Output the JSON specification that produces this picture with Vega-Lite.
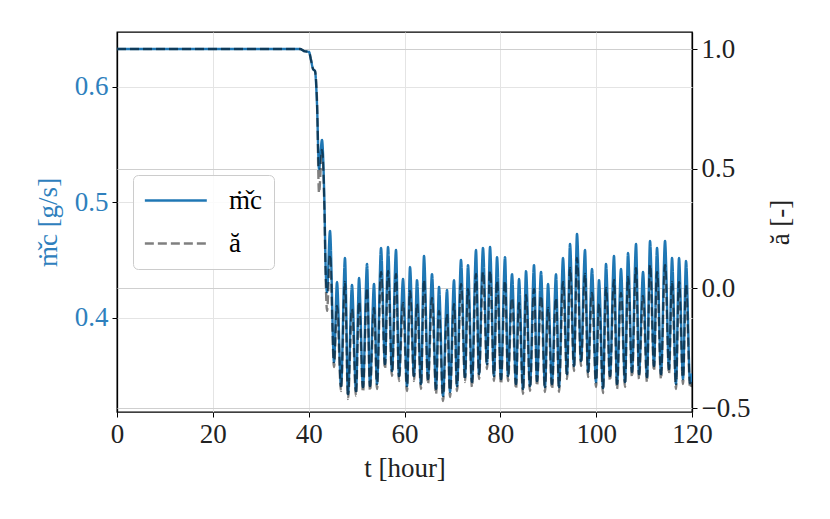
{
  "$schema": "https://vega.github.io/schema/vega-lite/v6.json",
  "width": 575,
  "height": 380,
  "autosize": {"type": "none"},
  "padding": {"left": 117, "top": 32, "right": 138, "bottom": 107},
  "background": "white",
  "config": {
    "view": {"stroke": "black", "strokeWidth": 1.3},
    "font": "Liberation Serif",
    "axis": {
      "labelFont": "Liberation Serif",
      "titleFont": "Liberation Serif",
      "labelFontSize": 27,
      "titleFontSize": 27,
      "titleFontWeight": "normal",
      "labelColor": "#222222",
      "titleColor": "#222222",
      "tickColor": "black",
      "tickSize": 5,
      "labelPadding": 4,
      "labelFlush": false,
      "labelOverlap": false,
      "domain": false
    },
    "legend": {
      "labelFont": "Liberation Serif",
      "labelFontSize": 27
    }
  },
  "data": {
    "values": [
      {"t": 0, "m": 0.6329, "a": 1.0},
      {"t": 38.19, "m": 0.6329, "a": 1.0},
      {"t": 39.03, "m": 0.6311, "a": 0.9916},
      {"t": 40.07, "m": 0.6303, "a": 0.9875},
      {"t": 40.49, "m": 0.6234, "a": 0.954},
      {"t": 40.91, "m": 0.6156, "a": 0.9165},
      {"t": 41.32, "m": 0.6138, "a": 0.908},
      {"t": 41.74, "m": 0.585, "a": 0.787},
      {"t": 42.16, "m": 0.529, "a": 0.399},
      {"t": 42.78, "m": 0.5541, "a": 0.5783},
      {"t": 43.26, "m": 0.5047, "a": 0.3487},
      {"t": 43.56, "m": 0.4415, "a": 0.035},
      {"t": 43.83, "m": 0.4224, "a": -0.0935},
      {"t": 44.45, "m": 0.4753, "a": 0.1399},
      {"t": 45.29, "m": 0.3618, "a": -0.3278},
      {"t": 45.91, "m": 0.4311, "a": -0.0731},
      {"t": 46.75, "m": 0.341, "a": -0.428},
      {"t": 47.58, "m": 0.4519, "a": 0.0271},
      {"t": 48.21, "m": 0.3341, "a": -0.4614},
      {"t": 49.04, "m": 0.4285, "a": -0.0856},
      {"t": 49.88, "m": 0.3367, "a": -0.4489},
      {"t": 50.51, "m": 0.4346, "a": -0.0564},
      {"t": 51.34, "m": 0.3402, "a": -0.4322},
      {"t": 52.18, "m": 0.4467, "a": 0.0021},
      {"t": 52.8, "m": 0.341, "a": -0.428},
      {"t": 53.64, "m": 0.4294, "a": -0.0814},
      {"t": 54.26, "m": 0.3428, "a": -0.4196},
      {"t": 55.1, "m": 0.4606, "a": 0.0689},
      {"t": 55.93, "m": 0.3601, "a": -0.3361},
      {"t": 56.56, "m": 0.4614, "a": 0.0731},
      {"t": 57.39, "m": 0.354, "a": -0.3653},
      {"t": 58.23, "m": 0.4588, "a": 0.0605},
      {"t": 58.85, "m": 0.3497, "a": -0.3862},
      {"t": 59.69, "m": 0.4337, "a": -0.0605},
      {"t": 60.52, "m": 0.341, "a": -0.428},
      {"t": 61.15, "m": 0.4441, "a": -0.0104},
      {"t": 61.98, "m": 0.3497, "a": -0.3862},
      {"t": 62.61, "m": 0.4328, "a": -0.0647},
      {"t": 63.44, "m": 0.3428, "a": -0.4196},
      {"t": 64.07, "m": 0.4536, "a": 0.0355},
      {"t": 64.91, "m": 0.3471, "a": -0.3987},
      {"t": 65.74, "m": 0.438, "a": -0.0397},
      {"t": 66.58, "m": 0.3385, "a": -0.4405},
      {"t": 67.2, "m": 0.4268, "a": -0.094},
      {"t": 68.04, "m": 0.3324, "a": -0.4697},
      {"t": 68.87, "m": 0.4242, "a": -0.1065},
      {"t": 69.5, "m": 0.3359, "a": -0.453},
      {"t": 70.33, "m": 0.4328, "a": -0.0647},
      {"t": 70.96, "m": 0.341, "a": -0.428},
      {"t": 71.79, "m": 0.4502, "a": 0.0188},
      {"t": 72.63, "m": 0.3488, "a": -0.3904},
      {"t": 73.25, "m": 0.4458, "a": -0.0021},
      {"t": 74.09, "m": 0.3445, "a": -0.4113},
      {"t": 74.92, "m": 0.4588, "a": 0.0605},
      {"t": 75.55, "m": 0.3514, "a": -0.3779},
      {"t": 76.38, "m": 0.4606, "a": 0.0689},
      {"t": 77.22, "m": 0.3601, "a": -0.3361},
      {"t": 77.85, "m": 0.4614, "a": 0.0731},
      {"t": 78.68, "m": 0.3497, "a": -0.3862},
      {"t": 79.31, "m": 0.4527, "a": 0.0313},
      {"t": 80.14, "m": 0.3471, "a": -0.3987},
      {"t": 80.98, "m": 0.4527, "a": 0.0313},
      {"t": 81.6, "m": 0.3497, "a": -0.3862},
      {"t": 82.44, "m": 0.438, "a": -0.0397},
      {"t": 83.27, "m": 0.3428, "a": -0.4196},
      {"t": 83.9, "m": 0.4337, "a": -0.0605},
      {"t": 84.73, "m": 0.3385, "a": -0.4405},
      {"t": 85.36, "m": 0.4406, "a": -0.0271},
      {"t": 86.19, "m": 0.341, "a": -0.428},
      {"t": 87.03, "m": 0.4458, "a": -0.0021},
      {"t": 87.65, "m": 0.3454, "a": -0.4071},
      {"t": 88.49, "m": 0.4398, "a": -0.0313},
      {"t": 89.32, "m": 0.3402, "a": -0.4322},
      {"t": 89.95, "m": 0.4294, "a": -0.0814},
      {"t": 90.78, "m": 0.3428, "a": -0.4196},
      {"t": 91.62, "m": 0.438, "a": -0.0397},
      {"t": 92.25, "m": 0.3402, "a": -0.4322},
      {"t": 93.08, "m": 0.4519, "a": 0.0271},
      {"t": 93.92, "m": 0.3514, "a": -0.3779},
      {"t": 94.54, "m": 0.464, "a": 0.0856},
      {"t": 95.38, "m": 0.3584, "a": -0.3445},
      {"t": 96.0, "m": 0.4727, "a": 0.1273},
      {"t": 96.84, "m": 0.3627, "a": -0.3236},
      {"t": 97.67, "m": 0.4588, "a": 0.0605},
      {"t": 98.3, "m": 0.3532, "a": -0.3695},
      {"t": 99.13, "m": 0.4424, "a": -0.0188},
      {"t": 99.97, "m": 0.3445, "a": -0.4113},
      {"t": 100.59, "m": 0.4328, "a": -0.0647},
      {"t": 101.43, "m": 0.3393, "a": -0.4363},
      {"t": 102.05, "m": 0.4467, "a": 0.0021},
      {"t": 102.89, "m": 0.3497, "a": -0.3862},
      {"t": 103.72, "m": 0.4536, "a": 0.0355},
      {"t": 104.35, "m": 0.3428, "a": -0.4196},
      {"t": 105.18, "m": 0.4424, "a": -0.0188},
      {"t": 106.02, "m": 0.3445, "a": -0.4113},
      {"t": 106.65, "m": 0.4562, "a": 0.048},
      {"t": 107.48, "m": 0.3532, "a": -0.3695},
      {"t": 108.32, "m": 0.464, "a": 0.0856},
      {"t": 108.94, "m": 0.3514, "a": -0.3779},
      {"t": 109.78, "m": 0.4398, "a": -0.0313},
      {"t": 110.61, "m": 0.3488, "a": -0.3904},
      {"t": 111.24, "m": 0.4666, "a": 0.0981},
      {"t": 112.07, "m": 0.3584, "a": -0.3445},
      {"t": 112.7, "m": 0.4606, "a": 0.0689},
      {"t": 113.53, "m": 0.3514, "a": -0.3779},
      {"t": 114.37, "m": 0.4666, "a": 0.0981},
      {"t": 115.2, "m": 0.3558, "a": -0.357},
      {"t": 115.83, "m": 0.4519, "a": 0.0271},
      {"t": 116.66, "m": 0.3428, "a": -0.4196},
      {"t": 117.29, "m": 0.4519, "a": 0.0271},
      {"t": 118.12, "m": 0.3471, "a": -0.3987},
      {"t": 118.75, "m": 0.4493, "a": 0.0146},
      {"t": 119.6, "m": 0.3436, "a": -0.4154},
      {"t": 120.0, "m": 0.352, "a": -0.39}
    ]
  },
  "transform": [{"fold": ["m", "a"], "as": ["key", "value"]}],
  "layer": [
    {
      "transform": [{"filter": "datum.key == 'm'"}],
      "mark": {"type": "line", "interpolate": "monotone", "strokeWidth": 2.4, "clip": true},
      "encoding": {
        "x": {
          "field": "t", "type": "quantitative",
          "scale": {"domain": [0, 120], "nice": false, "zero": false},
          "axis": {
            "title": "t [hour]", "values": [0, 20, 40, 60, 80, 100, 120], "grid": true,
            "gridColor": {"condition": {"test": "datum.value == 0 || datum.value == 120", "value": "#000000"}, "value": "#e4e4e4"},
            "gridWidth": {"condition": {"test": "datum.value == 0 || datum.value == 120", "value": 1.3}, "value": 1},
            "titlePadding": 8
          }
        },
        "y": {
          "field": "value", "type": "quantitative",
          "scale": {"domain": [0.3186, 0.6476], "nice": false, "zero": false},
          "axis": {"title": "ṁ̌c [g/s]", "values": [0.4, 0.5, 0.6], "format": ".1f", "grid": true, "gridColor": "#e4e4e4", "labelColor": "#2e80bd", "titleColor": "#2e80bd", "titlePadding": 12}
        },
        "color": {
          "field": "key", "type": "nominal",
          "scale": {"domain": ["m", "a"], "range": ["#1f77b4", "rgba(0,0,0,0.5)"]},
          "legend": {
            "title": null, "orient": "none", "legendX": 16, "legendY": 143,
            "padding": 12, "cornerRadius": 5, "strokeColor": "#cccccc", "fillColor": "rgba(255,255,255,0.85)",
            "symbolType": "M-1.3,0H4.6", "symbolSize": 441, "symbolStrokeWidth": 2.4,
            "labelOffset": 57, "rowPadding": 15,
            "labelExpr": "datum.value == 'm' ? 'ṁ̌c' : 'ă'"
          }
        },
        "strokeDash": {
          "field": "key", "type": "nominal",
          "scale": {"domain": ["m", "a"], "range": [[1, 0], [9, 4]]},
          "legend": null
        }
      }
    },
    {
      "transform": [{"filter": "datum.key == 'a'"}],
      "mark": {"type": "line", "interpolate": "monotone", "strokeWidth": 2.4, "clip": true},
      "encoding": {
        "x": {"field": "t", "type": "quantitative"},
        "y": {
          "field": "value", "type": "quantitative",
          "scale": {"domain": [-0.5157, 1.071], "nice": false, "zero": false},
          "axis": {"title": "ă [-]", "orient": "right", "values": [-0.5, 0, 0.5, 1.0], "format": ".1f", "grid": true, "gridColor": "#cfcfcf", "titleAngle": 270, "titlePadding": 45}
        },
        "color": {"field": "key", "type": "nominal"},
        "strokeDash": {"field": "key", "type": "nominal"}
      }
    }
  ],
  "resolve": {"scale": {"y": "independent"}}
}
